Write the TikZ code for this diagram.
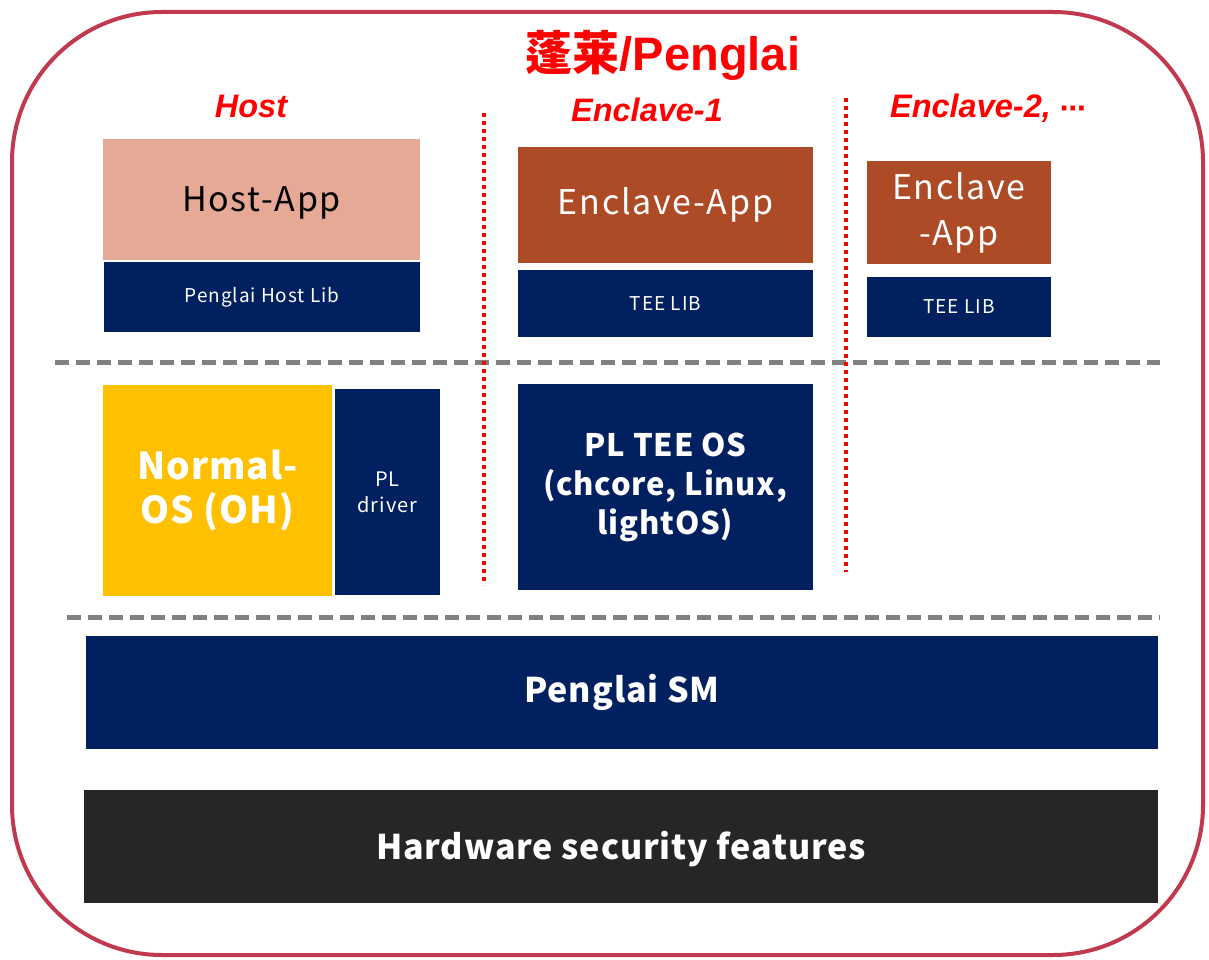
\documentclass[tikz,border=0pt]{standalone}
\usepackage{xcolor}
\usepackage{fontspec}
\setmainfont{Noto Sans CJK JP}[LetterSpace=5,BoldFeatures={LetterSpace=2.5}]
\newfontfamily\labelfont{Liberation Sans}
\newfontfamily\cjk{Noto Sans CJK JP}
\newfontfamily\dotsfont{DejaVu Sans}
\definecolor{frame}{RGB}{192,57,78}
\definecolor{navy}{RGB}{0,32,96}
\definecolor{salmon}{RGB}{230,169,149}
\definecolor{rust}{RGB}{174,75,39}
\definecolor{gold}{RGB}{255,192,0}
\definecolor{coal}{RGB}{38,38,38}

\begin{document}
\begin{tikzpicture}[x=1pt,y=-1pt,
    box/.style={rectangle,inner sep=0pt,align=center,text=white},
    layer/.style={text=red,font=\labelfont\bfseries\itshape\fontsize{32.5}{36}\selectfont},
    split/.style={red,line width=4pt,dash pattern=on 4pt off 4pt},
    level/.style={gray,line width=5pt,dash pattern=on 14pt off 7pt}]
    \useasboundingbox (0,0) rectangle (1209,960);
    \draw[frame,line width=4pt,rounded corners=150pt] (12,12) rectangle (1203,955);
    \node[text=red] (title) at (663,55) {\cjk\bfseries\fontsize{47}{50}\selectfont 蓬莱\labelfont/Penglai};
    \node[layer] (host) at (251,106) {Host};
    \node[layer] (enc1) at (647,110) {Enclave-1};
    \node[layer] (enc2) at (988,108) {Enclave-2, {\dotsfont\fontsize{26}{30}\selectfont ⋯}};
    % user level
    \node[box,fill=salmon,minimum width=317pt,minimum height=121pt] (hostapp) at (261.5,199.5) {};
    \node[font=\fontsize{34}{40}\selectfont] (hostapptext) at ([yshift=-3pt]hostapp.center) {Host-App};
    \node[box,fill=navy,minimum width=316pt,minimum height=70pt,font=\fontsize{19}{23}\selectfont] (hostlib) at (262,297) {Penglai Host Lib};
    \node[box,fill=rust,minimum width=295pt,minimum height=116pt,font=\fontsize{34}{40}\selectfont] (encapp) at (665.5,205) {Enclave-App};
    \node[box,fill=navy,minimum width=295pt,minimum height=67pt,font=\fontsize{19}{23}\selectfont] (teelib) at (665.5,303.5) {TEE LIB};
    \node[box,fill=rust,minimum width=184pt,minimum height=103pt,font=\fontsize{34}{46}\selectfont] (encapp2) at (959,212.5) {Enclave\\-App};
    \node[box,fill=navy,minimum width=184pt,minimum height=60pt,font=\fontsize{19}{23}\selectfont] (teelib2) at (959,307) {TEE LIB};
    \draw[level] (55,362) -- (1160,362);
    % kernel level
    \node[box,fill=gold,minimum width=229pt,minimum height=211pt,font=\bfseries\fontsize{37}{44}\selectfont] (normalos) at (217.5,490.5) {Normal-\\OS (OH)};
    \node[box,fill=navy,minimum width=105pt,minimum height=206pt,font=\fontsize{20}{26}\selectfont] (driver) at (387.5,492) {PL\\driver};
    \node[box,fill=navy,minimum width=295pt,minimum height=206pt,font=\bfseries\fontsize{31}{39}\selectfont] (teeos) at (665.5,487) {PL TEE OS\\(chcore, Linux,\\lightOS)};
    \draw[split] (484,113) -- (484,585);
    \draw[split] (846,98) -- (846,572);
    \draw[level] (67,617) -- (1160,617);
    % machine level
    \node[box,fill=navy,minimum width=1072pt,minimum height=113pt,font=\bfseries\fontsize{34}{40}\selectfont] (sm) at (622,692.5) {Penglai SM};
    \node[box,fill=coal,minimum width=1074pt,minimum height=113pt] (hw) at (621,846.5) {};
    \node[text=white,font=\bfseries\fontsize{34}{40}\selectfont] (hwtext) at ([yshift=-3pt]hw.center) {Hardware security features};
\end{tikzpicture}
\end{document}
